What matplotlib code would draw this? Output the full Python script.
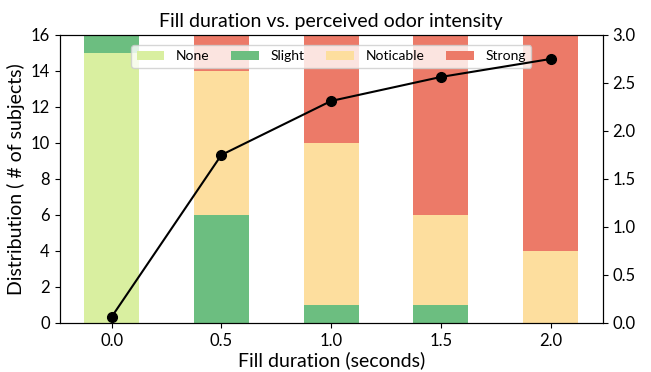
import matplotlib.pyplot as plt
import numpy as np

plt.rcParams['font.family'] = ['Lato', 'DejaVu Sans']

durations = [0.0, 0.5, 1.0, 1.5, 2.0]
labels = ['None', 'Slight', 'Noticable', 'Strong']
none_ = [15, 0, 0, 0, 0]
slight = [1, 6, 1, 1, 0]
noticable = [0, 8, 9, 5, 4]
strong = [0, 2, 6, 10, 12]
mean_intensity = [0.0625, 1.75, 2.3125, 2.5625, 2.75]

colors = ['#d9efa0', '#6cbe80', '#fdde9e', '#ec7a68']

fig, ax = plt.subplots(figsize=(6.51, 3.72), dpi=100)
bottom = np.zeros(len(durations))
for lab, vals, c in zip(labels, [none_, slight, noticable, strong], colors):
    ax.bar(durations, vals, width=0.25, bottom=bottom, color=c, label=lab)
    bottom += np.array(vals)

ax.set_ylim(0, 16)
ax.set_xticks(durations)
ax.set_yticks(range(0, 17, 2))
ax.set_xlabel('Fill duration (seconds)', fontsize=14, labelpad=2)
ax.set_ylabel('Distribution ( # of subjects)', fontsize=14)
ax.set_title('Fill duration vs. perceived odor intensity', fontsize=14)
ax.tick_params(labelsize=12)
leg = ax.legend(loc='upper center', ncol=4, fontsize=10, framealpha=0.8,
                bbox_to_anchor=(0.5, 0.99), handlelength=2.0, columnspacing=1.6)
leg.set_zorder(5)

ax2 = ax.twinx()
ax2.plot(durations, mean_intensity, 'k-o', markersize=7, linewidth=1.5)
ax2.set_ylim(0, 3.0)
ax2.set_yticks(np.arange(0, 3.01, 0.5))
ax2.tick_params(labelsize=12)

fig.subplots_adjust(left=0.0914, right=0.926, top=0.906, bottom=0.132)
fig.savefig('out.png', dpi=100)
